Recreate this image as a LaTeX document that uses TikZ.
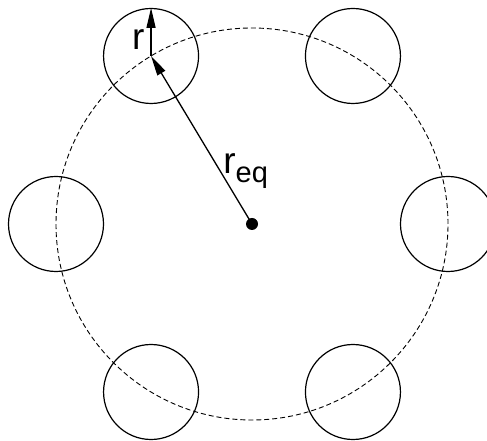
\documentclass[tikz,border=0pt]{standalone}
\usepackage{fontspec}
\setmainfont{Liberation Sans}
\usetikzlibrary{arrows.meta,calc}
\tikzset{ptr/.style={-{Triangle[length=20pt, width=9pt]}, line width=1.3pt},
  rod/.style={circle, draw, line width=1.2pt, minimum size=95pt, inner sep=0pt},
  big/.style={font=\fontsize{37}{40}\selectfont}}

\begin{document}
\begin{tikzpicture}[x=1pt, y=1pt]
  \useasboundingbox (0,0) rectangle (487,441);
  % equivalent circle and its centre
  \node[circle, fill, minimum size=12pt, inner sep=0pt] (c) at (252,217) {};
  \draw[dash pattern=on 5pt off 3pt, line width=0.9pt] (c.center) circle (196);
  % six rods on the dashed circle
  \foreach \a in {0,59,121,180,239,301}
    \node[rod] (p\a) at ($(c.center)+(\a:196)$) {};
  % radii
  \draw[ptr] (c.center) -- (p121.center)
    node[big, pos=0.3, anchor=base west, inner sep=1pt] (lreq) {r\raisebox{-9pt}{\fontsize{29}{30}\selectfont eq}};
  \draw[ptr] (p121.center) -- (p121.north)
    node[big, pos=0.35, left, inner sep=6pt] (lr) {r};
\end{tikzpicture}
\end{document}
